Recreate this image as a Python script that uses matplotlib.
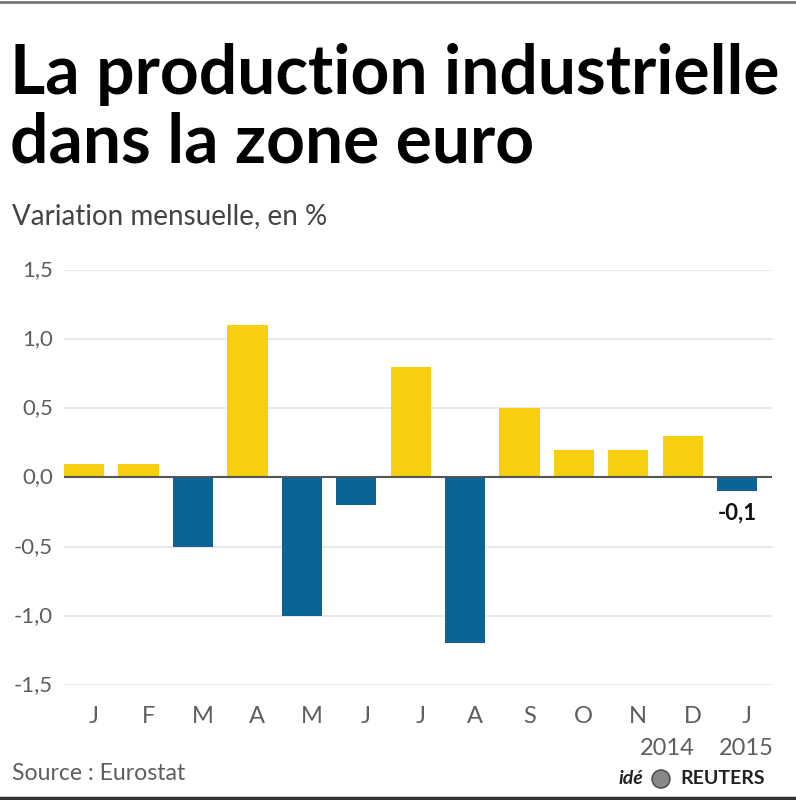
import matplotlib.pyplot as plt
import numpy as np
from matplotlib.patches import Circle

months = ['J', 'F', 'M', 'A', 'M', 'J', 'J', 'A', 'S', 'O', 'N', 'D', 'J']
values = [0.1, 0.1, -0.5, 1.1, -1.0, -0.2, 0.8, -1.2, 0.5, 0.2, 0.2, 0.3, -0.1]
years = ['2014', '2015']
yticks = [1.5, 1.0, 0.5, 0.0, -0.5, -1.0, -1.5]

yellow = '#f7cf0e'
blue = '#0b6396'
grey = '#5e5e5e'

fig = plt.figure(figsize=(7.96, 8), dpi=100)
W, H = 796, 800
renderer = fig.canvas.get_renderer()

def ftext(x, y, s, **kw):
    return fig.text(x / W, 1 - y / H, s, **kw)

def fit(t, width):
    # scale font so the text spans the wanted pixel width
    w = t.get_window_extent(renderer).width
    t.set_fontsize(t.get_fontsize() * width / w)

# thin frame lines top and bottom
fig.add_artist(plt.Line2D([0, 1], [0.997, 0.997], color='#777777', lw=2))
fig.add_artist(plt.Line2D([0, 1], [0.003, 0.003], color='#333333', lw=2.5))

t1 = ftext(10, 75, 'La production industrielle', fontsize=40, fontweight='bold',
           family='Lato', va='center', ha='left')
fit(t1, 770)
t2 = ftext(10, 143, 'dans la zone euro', fontsize=40, fontweight='bold',
           family='Lato', va='center', ha='left')
t2.set_fontsize(t1.get_fontsize())
t3 = ftext(12, 216, 'Variation mensuelle, en %', fontsize=18, color='#444444',
           family='Lato', va='center', ha='left')
fit(t3, 313)

ax = fig.add_axes([64 / W, 1 - 685 / H, (772 - 64) / W, (685 - 270) / H])
x = np.arange(len(values))
colors = [yellow if v >= 0 else blue for v in values]
ax.bar(x, values, width=0.74, color=colors, zorder=3)
ax.set_ylim(-1.5, 1.5)
ax.set_xlim(-0.37, 12.64)
for t in yticks:
    ax.axhline(t, color='#e8e8e8', lw=1.5, zorder=1)
ax.axhline(0, color='#555555', lw=1.5, zorder=4)
for s in ax.spines.values():
    s.set_visible(False)
ax.set_xticks([])
ax.set_yticks([])
ax.set_facecolor('none')

for t in yticks:
    lab = ('%.1f' % t).replace('.', ',')
    ax.text(-0.57, t, lab, ha='right', va='center', fontsize=16, color=grey,
            family='Lato', clip_on=False)

for i, m in enumerate(months):
    ax.text(i + 0.18, -1.73, m, ha='center', va='center', fontsize=17, color=grey,
            family='Lato', clip_on=False)
ax.text(11 - 0.28, -1.96, years[0], ha='center', va='center', fontsize=17,
        color=grey, family='Lato', clip_on=False)
ax.text(12 + 0.17, -1.96, years[1], ha='center', va='center', fontsize=17,
        color=grey, family='Lato', clip_on=False)

ax.text(12, values[-1] - 0.16, '-0,1', ha='center', va='center', fontsize=16,
        fontweight='bold', color='#111111', family='Lato')

t4 = ftext(12, 773, 'Source : Eurostat', fontsize=16, color=grey,
           family='Lato', va='center', ha='left')
fit(t4, 173)

# reuters mark
ftext(765, 779, 'REUTERS', fontsize=14, fontweight='bold', color='#222222',
      family='Lato', va='center', ha='right')
ftext(619, 779, 'idé', fontsize=14, fontweight='bold', style='italic',
      color='#222222', family='Lato', va='center', ha='left')
fig.add_artist(Circle((661 / W, 1 - 779 / H), 9 / W, transform=fig.transFigure,
                      facecolor='#888888', edgecolor='#444444', lw=1))

fig.savefig('out.png', dpi=100)
